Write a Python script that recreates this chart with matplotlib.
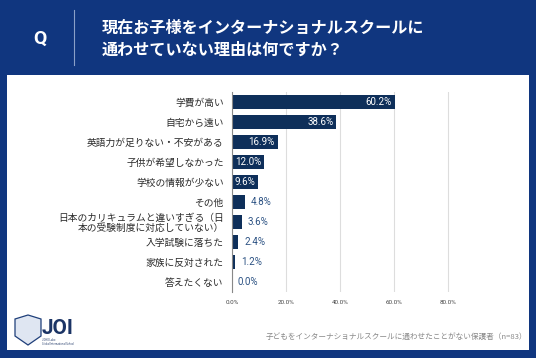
import matplotlib
matplotlib.use('Agg')
import numpy as np
import matplotlib.pyplot as plt
from matplotlib.patches import Rectangle, Polygon

plt.rcParams['font.family'] = ['Noto Sans CJK JP', 'DejaVu Sans']

categories = ['学費が高い', '自宅から遠い', '英語力が足りない・不安がある', '子供が希望しなかった',
              '学校の情報が少ない', 'その他',
              '日本のカリキュラムと違いすぎる（日\n本の受験制度に対応していない）',
              '入学試験に落ちた', '家族に反対された', '答えたくない']
values = [60.2, 38.6, 16.9, 12.0, 9.6, 4.8, 3.6, 2.4, 1.2, 0.0]
ticks = [0, 20, 40, 60, 80]

navy = '#10367f'
bar_c = '#0e2f5a'

fig = plt.figure(figsize=(5.36, 3.58), dpi=100)
fig.patch.set_facecolor(navy)
W, H = 536, 358

def fx(x): return x / W
def fy(y): return 1 - y / H

# white panel
fig.patches.append(Rectangle((fx(7), fy(350)), fx(522), 275 / H, transform=fig.transFigure,
                             facecolor='white', edgecolor='none', zorder=-5))
# header
fig.text(fx(40), fy(39), 'Q', color='white', fontsize=14, fontweight='bold',
         family='Roboto', ha='center', va='center')
fig.add_artist(plt.Line2D([fx(74), fx(74)], [fy(10), fy(65)], color='#8aa0c8', lw=0.8))
fig.text(fx(102), fy(28), '現在お子様をインターナショナルスクールに', color='white', fontsize=11.6,
         fontweight='bold', ha='left', va='center')
fig.text(fx(102), fy(50), '通わせていない理由は何ですか？', color='white', fontsize=11.6,
         fontweight='bold', ha='left', va='center')

ax = fig.add_axes([fx(232), fy(292), 243 / W, 200 / H], zorder=5)
ax.set_facecolor('white')
y = np.arange(len(categories))
ax.barh(y, values, height=0.72, color=bar_c, zorder=2)
ax.set_ylim(len(categories) - 0.5, -0.5)
ax.set_xlim(0, 90)
ax.set_yticks(y)
ax.set_yticklabels(categories, fontsize=7, color='#2a2a2a', linespacing=0.95)
ax.set_xticks(ticks)
ax.set_xticklabels(['%.1f%%' % t for t in ticks], fontsize=4.5, color='#444444', family='Roboto')
ax.tick_params(length=0, pad=6)
ax.tick_params(axis='x', pad=6)
ax.grid(axis='x', color='#dddddd', lw=0.8, zorder=0)
ax.set_axisbelow(True)
for s in ['top', 'right', 'bottom']:
    ax.spines[s].set_visible(False)
ax.spines['left'].set_color('#888888')
ax.spines['left'].set_linewidth(0.8)

for i, v in enumerate(values):
    lab = '%.1f%%' % v
    if v >= 9:
        ax.annotate(lab, (v, i), xytext=(-2, 0), textcoords='offset points', ha='right',
                    va='center', color='white', fontsize=7, family='Roboto')
    else:
        ax.annotate(lab, (v, i), xytext=(4, 0), textcoords='offset points', ha='left',
                    va='center', color='#2c5283', fontsize=7, family='Roboto')

# logo
shield = Polygon([[fx(15), fy(319)], [fx(28), fy(315)], [fx(41), fy(319)], [fx(41), fy(336)],
                  [fx(28), fy(345)], [fx(15), fy(336)]], closed=True, transform=fig.transFigure,
                 facecolor='#dfe6f2', edgecolor='#1f3f7a', lw=0.9)
fig.patches.append(shield)
fig.text(fx(42), fy(328), 'JOI', color='#1b3465', fontsize=15, fontweight='bold',
         family='Roboto', ha='left', va='center')
fig.text(fx(42), fy(342), 'JOHO Labo\nGlobal International School', color='#1b3465', fontsize=1.8,
         ha='left', va='center', linespacing=1.0)

fig.text(fx(527), fy(337), '子どもをインターナショナルスクールに通わせたことがない保護者（n=83）',
         color='#888888', fontsize=5.5, ha='right', va='center')

fig.savefig('out.png', dpi=100, facecolor=fig.get_facecolor())
